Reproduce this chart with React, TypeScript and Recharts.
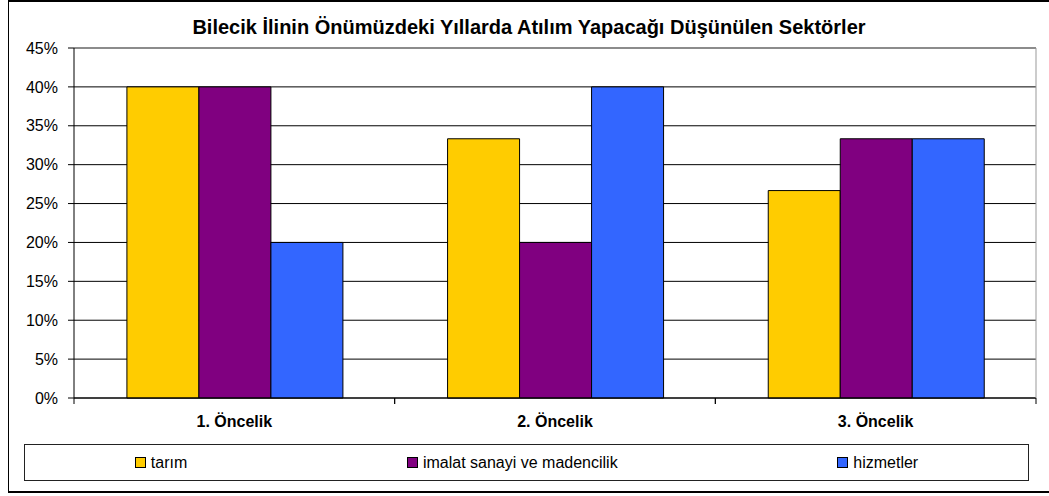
import React from "react";
import { BarChart, Bar, XAxis, YAxis, CartesianGrid, Legend, ReferenceLine } from "recharts";

const categories = ["1. Öncelik", "2. Öncelik", "3. Öncelik"];
const tarim = [40, 33.33, 26.67];
const imalat = [40, 20, 33.33];
const hizmetler = [20, 40, 33.33];
const yTicks = [0, 5, 10, 15, 20, 25, 30, 35, 40, 45];
const seriesNames = ["tarım", "imalat sanayi ve madencilik", "hizmetler"];
const seriesColors = ["#FFCC00", "#800080", "#3366FF"];
const titleText = "Bilecik İlinin Önümüzdeki Yıllarda Atılım Yapacağı Düşünülen Sektörler";

const data = categories.map((c, i) => ({
  name: c,
  tarim: tarim[i],
  imalat: imalat[i],
  hizmetler: hizmetler[i],
}));

const FONT = "Arial, 'Liberation Sans', sans-serif";
const X_TICK_MARGIN = 18;
const EDGE_TICK = 6;

const CategoryTick = (props: any) => {
  const { x, y, payload } = props;
  const axisY = y - X_TICK_MARGIN;
  const half = payload && payload.offset ? payload.offset : 0;
  return (
    <g>
      <line x1={x - half} x2={x - half} y1={axisY} y2={axisY + EDGE_TICK} stroke="#000" />
      <line x1={x + half} x2={x + half} y1={axisY} y2={axisY + EDGE_TICK} stroke="#000" />
      <text
        x={x}
        y={y}
        dy="0.71em"
        textAnchor="middle"
        fill="#000"
        fontSize={16}
        fontWeight="bold"
        fontFamily={FONT}
      >
        {payload.value}
      </text>
    </g>
  );
};

const LegendBox = () => (
  <div
    style={{
      boxSizing: "border-box",
      width: 1005,
      height: 37,
      border: "1px solid #222",
      display: "flex",
      justifyContent: "space-around",
      alignItems: "center",
      fontFamily: FONT,
      fontSize: 16,
      color: "#000",
    }}
  >
    {seriesNames.map((n, i) => (
      <div key={n} style={{ display: "flex", alignItems: "center" }}>
        <span
          style={{
            display: "inline-block",
            boxSizing: "border-box",
            width: 11,
            height: 11,
            background: seriesColors[i],
            border: "1px solid #000",
            marginRight: 5,
          }}
        />
        <span>{n}</span>
      </div>
    ))}
  </div>
);

export default function App() {
  return (
    <div style={{ position: "absolute", left: 0, top: 0, width: 1049, height: 496, background: "#fff" }}>
      <div
        style={{
          position: "absolute",
          left: 8,
          top: 0,
          width: 1050,
          height: 493,
          boxSizing: "border-box",
          borderTop: "2px solid #000",
          borderBottom: "2px solid #000",
          borderLeft: "1px solid #000",
        }}
      />
      <div
        style={{
          position: "absolute",
          left: 8,
          top: 16,
          width: 1042,
          textAlign: "center",
          fontFamily: FONT,
          fontWeight: "bold",
          fontSize: 20,
          color: "#000",
        }}
      >
        {titleText}
      </div>
      <div style={{ position: "absolute", left: 0, top: 0 }}>
        <BarChart
          width={1049}
          height={496}
          data={data}
          margin={{ top: 48, right: 12, bottom: 31, left: 0 }}
          barCategoryGap="16.5%"
          barGap={0}
        >
          <CartesianGrid vertical={false} stroke="#000" />
          <XAxis
            dataKey="name"
            height={30}
            axisLine={{ stroke: "#000" }}
            tickLine={false}
            tickSize={0}
            tickMargin={X_TICK_MARGIN}
            interval={0}
            tick={CategoryTick}
          />
          <YAxis
            domain={[0, 45]}
            ticks={yTicks}
            width={74}
            tickFormatter={(v) => `${v}%`}
            axisLine={{ stroke: "#000" }}
            tickLine={{ stroke: "#000" }}
            tickSize={6}
            tickMargin={10}
            tick={{ fill: "#000", fontSize: 16, fontFamily: FONT }}
            interval={0}
          />
          <YAxis
            yAxisId="right"
            orientation="right"
            domain={[0, 45]}
            width={1}
            tick={false}
            tickLine={false}
            axisLine={{ stroke: "#999" }}
          />
          <ReferenceLine y={45} stroke="#999" />
          <Legend
            verticalAlign="bottom"
            content={() => <LegendBox />}
            wrapperStyle={{ left: 24, top: 444, width: 1005, height: 37 }}
          />
          <Bar dataKey="tarim" name={seriesNames[0]} fill={seriesColors[0]} stroke="#000" strokeWidth={1} isAnimationActive={false} />
          <Bar dataKey="imalat" name={seriesNames[1]} fill={seriesColors[1]} stroke="#000" strokeWidth={1} isAnimationActive={false} />
          <Bar dataKey="hizmetler" name={seriesNames[2]} fill={seriesColors[2]} stroke="#000" strokeWidth={1} isAnimationActive={false} />
        </BarChart>
      </div>
    </div>
  );
}
